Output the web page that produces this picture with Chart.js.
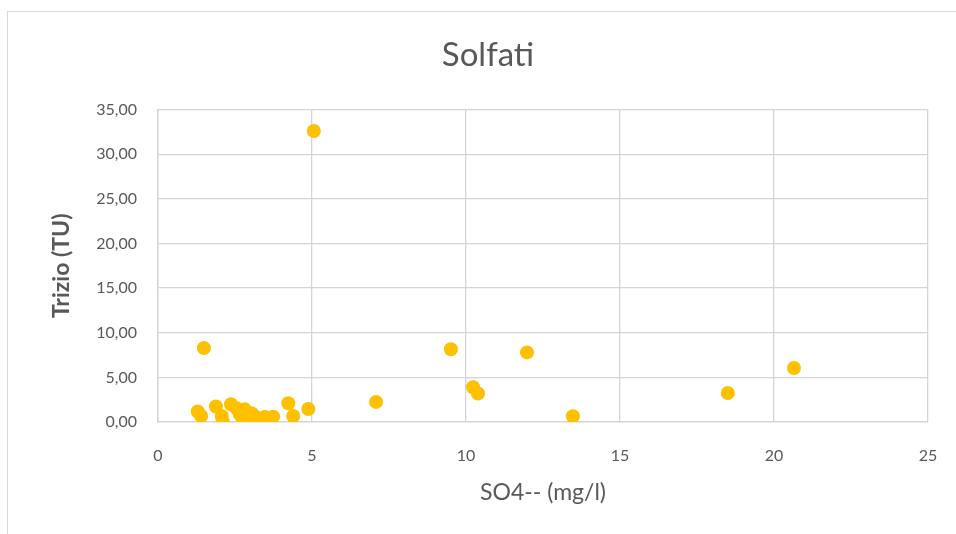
<!DOCTYPE html>
<html>
<head>
<meta charset="utf-8">
<script src="https://cdn.jsdelivr.net/npm/chart.js@4.4.1/dist/chart.umd.min.js"></script>
<style>
  body { margin: 0; background: #fff; }
  #wrap { position: relative; width: 956px; height: 534px; overflow: hidden; }
  #frame { position: absolute; left: 7px; top: 11px; width: 1000px; height: 600px; border: 1px solid #d9d9d9; }
  canvas { position: absolute; left: 0; top: 0; }
</style>
</head>
<body>
<div id="wrap">
  <div id="frame"></div>
  <canvas id="scatterChart" width="956" height="534"></canvas>
</div>
<script>
// valori
const so4 = [1.29, 1.40, 1.49, 1.88, 2.07, 2.10, 2.37, 2.55, 2.65, 2.75, 2.82, 2.82, 2.95, 3.05, 3.10, 3.20, 3.42, 3.47, 3.74, 4.23, 4.39, 4.88, 5.06, 7.08, 9.51, 10.23, 10.39, 11.98, 13.47, 18.5, 20.65];
const trizio = [1.17, 0.67, 8.28, 1.74, 0.67, 0.05, 1.99, 1.54, 0.9, 0.4, 1.42, 0.05, 0.7, 0.95, 0.1, 0.5, 0.05, 0.55, 0.6, 2.1, 0.67, 1.45, 32.6, 2.25, 8.15, 3.9, 3.2, 7.8, 0.65, 3.25, 6.05];
const xTicks = [0, 5, 10, 15, 20, 25];
const yTicks = [0, 5, 10, 15, 20, 25, 30, 35];

const punti = so4.map((x, i) => ({ x: x, y: trizio[i] }));
const grigio = '#595959';
const griglia = '#d4d4d4';

const ctx = document.getElementById('scatterChart').getContext('2d');
const chart = new Chart(ctx, {
    type: 'scatter',
    data: {
        datasets: [{
            label: 'Trizio',
            data: punti,
            backgroundColor: '#ffc000',
            borderColor: '#ffc000',
            borderWidth: 0,
            pointRadius: 7,
            pointHoverRadius: 7
        }]
    },
    options: {
        responsive: false,
        animation: false,
        layout: { padding: { left: 48, right: 28, top: 0, bottom: 0 } },
        plugins: {
            legend: { display: false },
            tooltip: { enabled: false },
            title: {
                display: true,
                text: 'Solfati',
                color: grigio,
                font: { family: 'Lato', size: 33, weight: 'normal' },
                padding: { top: 36, bottom: 34 }
            }
        },
        scales: {
            x: {
                type: 'linear',
                min: 0,
                max: 25,
                afterBuildTicks: (s) => { s.ticks = xTicks.map(v => ({ value: v })); },
                afterFit: (s) => { s.height = 112; s.paddingLeft = 0; s.paddingRight = 0; },
                grid: { color: griglia, lineWidth: 1.3, drawTicks: false },
                border: { color: griglia, width: 1.3 },
                ticks: { color: grigio, font: { family: 'Lato', size: 16 }, padding: 24 },
                title: {
                    display: true,
                    text: 'SO4-- (mg/l)',
                    color: grigio,
                    font: { family: 'Lato', size: 23 },
                    padding: { top: 0, bottom: 28 }
                }
            },
            y: {
                type: 'linear',
                min: 0,
                max: 35,
                afterBuildTicks: (s) => { s.ticks = yTicks.map(v => ({ value: v })); },
                afterFit: (s) => { s.width = 110; s.paddingTop = 0; s.paddingBottom = 0; },
                grid: { color: griglia, lineWidth: 1.3, drawTicks: false },
                border: { color: griglia, width: 1.3 },
                ticks: {
                    color: grigio,
                    font: { family: 'Lato', size: 16 },
                    padding: 21,
                    callback: (v) => v.toFixed(2).replace('.', ',')
                },
                title: {
                    display: true,
                    text: 'Trizio (TU)',
                    color: grigio,
                    font: { family: 'Lato', size: 23, weight: 'bold' },
                    padding: { top: 0, bottom: 0 }
                }
            }
        }
    }
});
</script>
</body>
</html>
